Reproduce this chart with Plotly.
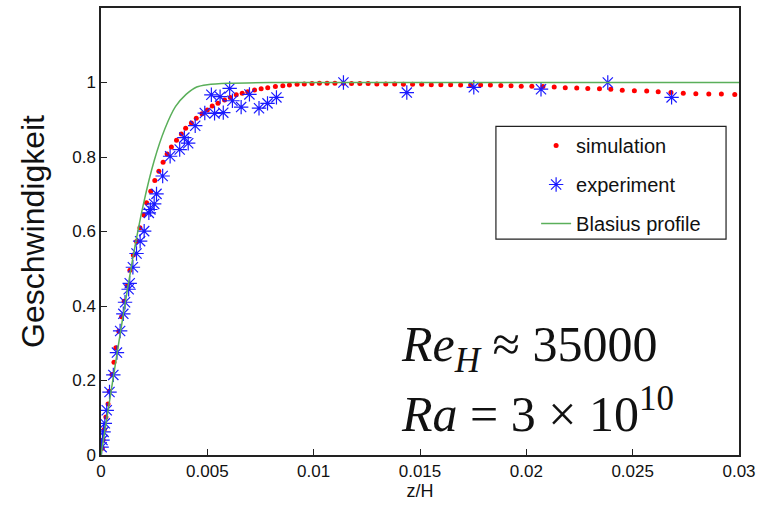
import plotly.graph_objects as go

# ---- data ----
sim_x = [0.00006, 0.0001, 0.00016, 0.00023, 0.00033, 0.00039, 0.00052, 0.00061, 0.0007, 0.00084,
         0.00097, 0.00109, 0.00123, 0.00136, 0.00152, 0.00167, 0.00183, 0.00202, 0.00214, 0.00234,
         0.00253, 0.00272, 0.00292, 0.00311, 0.00331, 0.00355, 0.00378, 0.00398, 0.00425, 0.00448,
         0.00475, 0.005, 0.00523, 0.0055, 0.00581, 0.00608, 0.00636, 0.00664, 0.0069, 0.00722,
         0.00753, 0.00784, 0.0082, 0.00855, 0.00886, 0.00922, 0.00956, 0.00992, 0.01027, 0.01063,
         0.011, 0.0114, 0.01178, 0.01217, 0.01256, 0.01297, 0.01339, 0.01381, 0.01422, 0.01465,
         0.01508, 0.01553, 0.01598, 0.01644, 0.01691, 0.01738, 0.01785, 0.01831, 0.0188, 0.01928,
         0.01976, 0.02026, 0.02078, 0.02131, 0.02183, 0.02237, 0.02289, 0.02344, 0.02397, 0.02451,
         0.02508, 0.02566, 0.0262, 0.0268, 0.02738, 0.02797, 0.02858, 0.02917, 0.0298]
sim_y = [0.018, 0.04, 0.069, 0.102, 0.137, 0.171, 0.216, 0.249, 0.288, 0.332,
         0.371, 0.413, 0.454, 0.496, 0.537, 0.573, 0.61, 0.644, 0.677, 0.708,
         0.737, 0.762, 0.786, 0.808, 0.827, 0.845, 0.862, 0.877, 0.891, 0.904,
         0.916, 0.926, 0.937, 0.944, 0.953, 0.96, 0.967, 0.971, 0.975, 0.98,
         0.983, 0.986, 0.989, 0.991, 0.993, 0.995, 0.996, 0.997, 0.998, 0.998,
         0.998, 0.998, 0.997, 0.997, 0.997, 0.996, 0.996, 0.996, 0.995, 0.995,
         0.995, 0.994, 0.994, 0.994, 0.993, 0.993, 0.993, 0.993, 0.992, 0.991,
         0.99, 0.99, 0.989, 0.988, 0.986, 0.985, 0.984, 0.983, 0.982, 0.979,
         0.978, 0.977, 0.975, 0.973, 0.971, 0.97, 0.969, 0.969, 0.968]

exp_x = [0.00003, 0.00007, 0.00012, 0.00018, 0.00027, 0.0004, 0.00058, 0.00075, 0.0009, 0.00105,
         0.00113, 0.0013, 0.00135, 0.0015, 0.00167, 0.00184, 0.00203, 0.00225, 0.00232, 0.0025,
         0.00261, 0.0029, 0.00325, 0.0037, 0.00392, 0.0041, 0.00443, 0.00488, 0.00519, 0.00534,
         0.0056, 0.00575, 0.00605, 0.00618, 0.00659, 0.00698, 0.00743, 0.00783, 0.00825, 0.0114,
         0.01438, 0.01753, 0.02069, 0.02383, 0.02683]
exp_y = [0.021, 0.04, 0.062, 0.085, 0.12, 0.169, 0.215, 0.275, 0.333, 0.379,
         0.41, 0.445, 0.461, 0.504, 0.541, 0.574, 0.601, 0.65, 0.659, 0.674,
         0.701, 0.749, 0.802, 0.82, 0.852, 0.837, 0.884, 0.918, 0.967, 0.917,
         0.962, 0.919, 0.984, 0.951, 0.934, 0.968, 0.931, 0.944, 0.96, 1.0,
         0.973, 0.987, 0.982, 1.0, 0.96]

blas_x = [0, 0.0005, 0.001, 0.0015, 0.002, 0.0025, 0.003, 0.0035, 0.004, 0.0045, 0.005, 0.006, 0.008, 0.01, 0.03]
blas_y = [0, 0.18, 0.36, 0.53, 0.675, 0.79, 0.875, 0.935, 0.968, 0.988, 0.994, 0.998, 1.0, 1.0, 1.0]

x_ticks = [0, 0.005, 0.01, 0.015, 0.02, 0.025, 0.03]
x_tick_labels = ["0", "0.005", "0.01", "0.015", "0.02", "0.025", "0.03"]
y_ticks = [0, 0.2, 0.4, 0.6, 0.8, 1]
y_tick_labels = ["0", "0.2", "0.4", "0.6", "0.8", "1"]

FONT = "Liberation Sans, Arial, sans-serif"

fig = go.Figure()
fig.add_trace(go.Scatter(x=sim_x, y=sim_y, mode="markers", name="simulation",
                         legendgroup="a", legendrank=1,
                         marker=dict(symbol="circle", size=5, color="#ff0000")))
fig.add_trace(go.Scatter(x=exp_x, y=exp_y, mode="markers", name="experiment",
                         legendgroup="b", legendrank=2,
                         marker=dict(symbol="asterisk-open", size=12, color="#1a1aff",
                                     line=dict(color="#1a1aff", width=1.2))))
fig.add_trace(go.Scatter(x=blas_x, y=blas_y, mode="lines", name="Blasius profile",
                         legendgroup="c", legendrank=3,
                         line=dict(color="#5aaf5a", width=1.5, shape="spline", smoothing=0.6)))

axis_common = dict(showgrid=False, zeroline=False, showline=True, linecolor="#222222",
                   linewidth=1.5, mirror=True, ticks="inside", ticklen=6, tickwidth=1,
                   tickcolor="#222222", tickfont=dict(family=FONT, size=17, color="#111111"))

fig.update_xaxes(range=[0, 0.03], tickvals=x_ticks, ticktext=x_tick_labels,
                 title=dict(text="z/H", font=dict(family=FONT, size=18, color="#111111"), standoff=4),
                 **axis_common)
fig.update_yaxes(range=[0, 1.2], tickvals=y_ticks, ticktext=y_tick_labels,
                 title=dict(text="Geschwindigkeit", font=dict(family=FONT, size=32, color="#111111"), standoff=18),
                 **axis_common)

fig.add_shape(type="rect", xref="paper", yref="paper", x0=0.619, x1=0.9797, y0=0.483, y1=0.735,
              line=dict(color="#222222", width=1.2), fillcolor="white", layer="below")

fig.add_annotation(xref="paper", yref="paper", x=0.467, y=0.240, xanchor="left", yanchor="middle",
                   showarrow=False,
                   text="<i>Re</i><sub><i>H</i></sub> ≈ 35000",
                   font=dict(family="Liberation Serif, serif", size=50, color="#111111"))
fig.add_annotation(xref="paper", yref="paper", x=0.467, y=0.100, xanchor="left", yanchor="middle",
                   showarrow=False,
                   text="<i>Ra</i> = 3 × 10<sup>10</sup>",
                   font=dict(family="Liberation Serif, serif", size=50, color="#111111"))

fig.update_layout(
    width=762, height=507,
    margin=dict(l=101, r=21, t=6, b=52),
    paper_bgcolor="white", plot_bgcolor="white",
    legend=dict(x=0.682, y=0.736, xanchor="left", yanchor="top", bgcolor="rgba(0,0,0,0)",
                borderwidth=0, tracegroupgap=10,
                font=dict(family=FONT, size=20, color="#111111")),
)

fig.write_html("out.html")
